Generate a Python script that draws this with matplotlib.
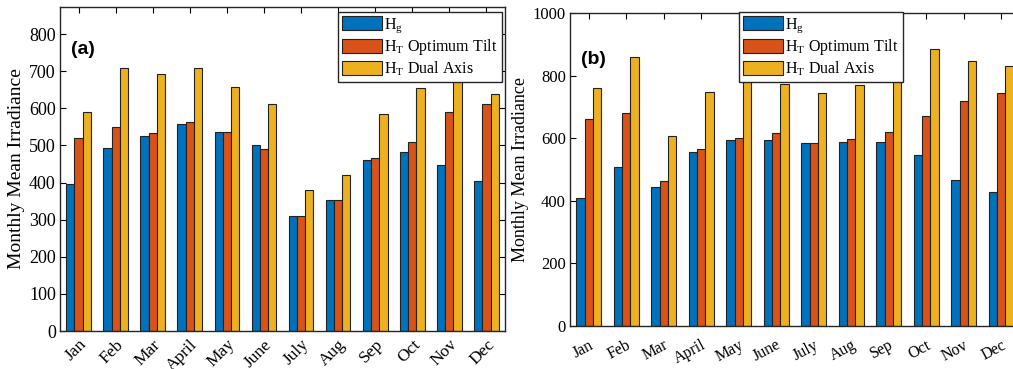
import matplotlib.pyplot as plt
import numpy as np

months = ['Jan', 'Feb', 'Mar', 'April', 'May', 'June', 'July', 'Aug', 'Sep', 'Oct', 'Nov', 'Dec']

# panel (a)
hg_a = [396, 494, 526, 558, 537, 501, 311, 353, 460, 482, 446, 405]
opt_a = [519, 549, 534, 562, 536, 491, 311, 352, 465, 509, 589, 612]
dual_a = [590, 708, 693, 709, 657, 611, 381, 421, 584, 654, 705, 639]

# panel (b)
hg_b = [409, 507, 445, 555, 594, 594, 584, 587, 588, 546, 467, 427]
opt_b = [662, 681, 464, 566, 600, 618, 584, 598, 619, 672, 720, 743]
dual_b = [760, 859, 606, 749, 810, 773, 745, 771, 837, 886, 848, 832]

colors = ['#0072BD', '#D95319', '#EDB120']
labels = ['H$_\\mathregular{g}$', 'H$_\\mathregular{T}$ Optimum Tilt', 'H$_\\mathregular{T}$ Dual Axis']

plt.rcParams['font.family'] = ['Liberation Serif', 'DejaVu Serif']
plt.rcParams['mathtext.fontset'] = 'custom'
plt.rcParams['mathtext.rm'] = 'Liberation Serif'


def draw_panel(ax, series, ylim, yticks, tag, rot, legend_pos, fs, xpad):
    x = np.arange(1, len(months) + 1)
    w = 0.222
    for i, vals in enumerate(series):
        ax.bar(x + (i - 1) * w, vals, width=w, color=colors[i], edgecolor='#222222',
               linewidth=0.8, label=labels[i], zorder=2)
    ax.set_xlim(0.5, 12.5)
    ax.set_ylim(*ylim)
    ax.set_yticks(yticks)
    ax.set_xticks(x)
    ax.set_xticklabels(months, rotation=rot, ha='right', rotation_mode='anchor', fontsize=fs - 0.5)
    ax.tick_params(axis='y', labelsize=fs, direction='in', right=True, length=4, pad=3)
    ax.tick_params(axis='x', direction='in', top=True, length=4, pad=xpad)
    ax.set_ylabel('Monthly Mean Irradiance', fontsize=fs + 1, labelpad=3)
    for s in ax.spines.values():
        s.set_linewidth(1.0)
        s.set_color('#262626')
    ax.text(0.025, 0.87 if tag == '(a)' else 0.85, tag, transform=ax.transAxes, fontsize=14,
            fontweight='bold', family='Liberation Sans', va='center')
    leg = ax.legend(loc='upper left', bbox_to_anchor=legend_pos, fontsize=11.5, frameon=True,
                    fancybox=False, edgecolor='#262626', framealpha=1, handlelength=2.5,
                    handleheight=1.0, borderpad=0.25, labelspacing=0.12, handletextpad=0.15,
                    borderaxespad=0)
    leg.get_frame().set_linewidth(1.0)
    leg.set_zorder(5)


fig = plt.figure(figsize=(10.13, 3.69), dpi=100)
W, H = 1013, 369
ax1 = fig.add_axes([60 / W, (H - 331) / H, 445 / W, 324 / H])
ax2 = fig.add_axes([570 / W, (H - 326) / H, 450 / W, 313 / H])

draw_panel(ax1, [hg_a, opt_a, dual_a], (0, 873), range(0, 801, 100), '(a)', 45,
           ((338 - 60) / 445, (331 - 12) / 324), 13, 4)
draw_panel(ax2, [hg_b, opt_b, dual_b], (0, 1000), range(0, 1001, 200), '(b)', 28,
           ((739 - 570) / 450, (326 - 12) / 313), 12, 8)

fig.savefig('out.png', dpi=100)
